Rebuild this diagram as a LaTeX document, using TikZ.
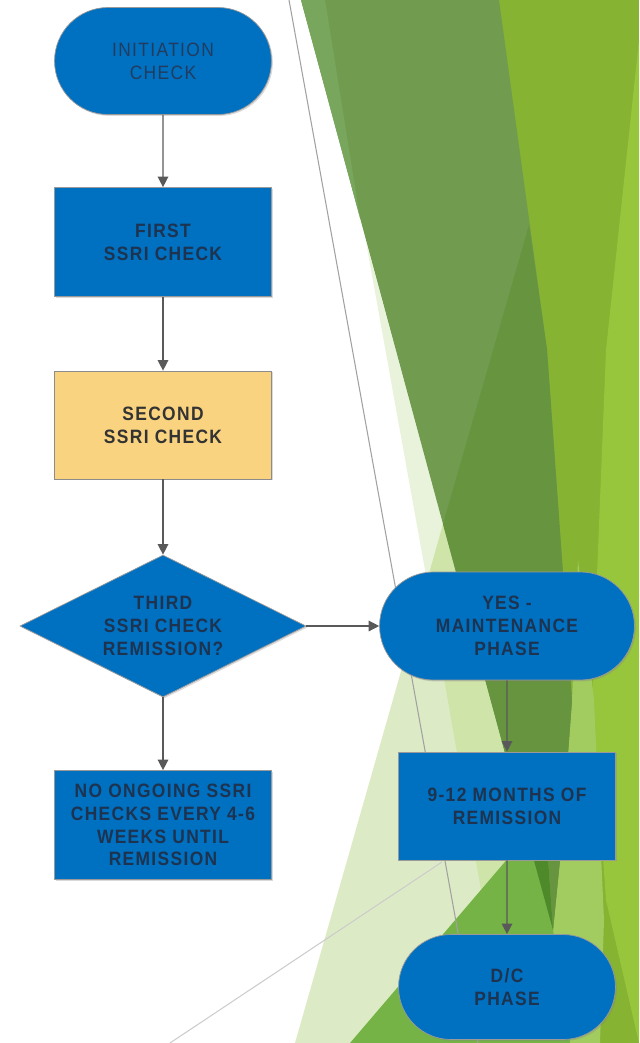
\documentclass[tikz,border=0pt]{standalone}
\usepackage{fontspec}
\setmainfont{Liberation Sans}[FakeStretch=0.9,LetterSpace=7]
\usetikzlibrary{shapes.misc,shapes.geometric,arrows.meta,shadows}
\definecolor{boxblue}{HTML}{0070C0}
\definecolor{boxtext}{HTML}{1D3350}
\definecolor{inittext}{HTML}{223C60}
\definecolor{boxsand}{HTML}{F9D37F}
\definecolor{arrowgray}{HTML}{595959}
\definecolor{lime}{HTML}{86B332}
\definecolor{limelt}{HTML}{97C63D}
\definecolor{greenlt}{HTML}{A2CB60}
\definecolor{palegreen}{HTML}{DCEBC5}
\definecolor{stripgreen}{HTML}{E9F2DA}
\definecolor{midpale}{HTML}{CFE4A9}
\definecolor{olive}{HTML}{719C4F}
\definecolor{olivelt}{HTML}{79A65D}
\definecolor{olivedk}{HTML}{66943F}
\definecolor{midgreen}{HTML}{76B347}
\definecolor{wedgegreen}{HTML}{4E8A2A}
\begin{document}
\begin{tikzpicture}[x=0.02cm,y=-0.02cm,
  blk/.style={fill=boxblue,draw=black!40,line width=0.4pt,text=boxtext,align=center,
    font=\fontsize{11}{13}\selectfont\bfseries,inner sep=2pt,minimum width=4.34cm,minimum height=2.16cm,
    drop shadow={shadow xshift=0.8pt,shadow yshift=-0.8pt,opacity=0.3}},
  term/.style={blk,shape=rounded rectangle,minimum width=4.48cm},
  proc/.style={blk,shape=rectangle},
  flow/.style={draw=arrowgray,line width=0.8pt,-{Triangle[length=6pt,width=6pt]}}]
\useasboundingbox (0,0) rectangle (639,1043);
% facets on the right
\fill[lime] (470,0) rectangle (639,1043);
\fill[limelt] (639,40) -- (606,350) -- (592,700) -- (606,900) -- (639,1043) -- cycle;
\fill[greenlt] (578,560) -- (594,700) -- (604,920) -- (600,1043) -- (570,1043) -- (553,930) -- (560,860) -- (572,700) -- cycle;
\fill[palegreen] (443,524) -- (295,1043) -- (560,1043) -- (553,930) -- cycle;
\fill[stripgreen] (366,242) -- (427,581) -- (443,524) -- cycle;
\fill[midpale] (427,581) -- (488,930) -- (553,930) -- (443,524) -- cycle;
\fill[olive] (301,0) -- (499,0) -- (547,350) -- (572,700) -- (560,860) -- (553,930) -- cycle;
\fill[olivelt] (301,0) -- (325,0) -- (360,218) -- cycle;
\fill[olivedk] (529,225) -- (547,350) -- (572,700) -- (560,860) -- (553,930) -- (443,524) -- cycle;
\fill[midgreen] (350,1043) -- (545,815) -- (553,930) -- (570,1043) -- cycle;
\fill[wedgegreen] (527,835) -- (545,815) -- (553,930) -- cycle;
\draw[black!37,line width=0.6pt] (289,0) -- (478,1043);
\draw[black!20,line width=0.6pt] (170,1043) -- (442,862);
% flow chart
\node[term,text=inittext,font=\fontsize{11}{13}\selectfont,minimum height=2.14cm](init) at (163,61){INITIATION\\CHECK};
\node[proc,minimum height=2.18cm](first) at (163,242){FIRST\\SSRI CHECK};
\node[proc,fill=boxsand,draw=black!45,text=black!80](second) at (163,425){SECOND\\SSRI CHECK};
\node[blk,shape=diamond,aspect=2,inner sep=0pt,minimum width=5.72cm,minimum height=2.84cm](third) at (163,626){THIRD\\SSRI CHECK\\REMISSION?};
\node[proc,minimum height=2.18cm](ongoing) at (163,825){NO ONGOING SSRI\\CHECKS EVERY 4-6\\WEEKS UNTIL\\REMISSION};
\node[term,minimum width=5.24cm](yes) at (507,626){YES -\\MAINTENANCE\\PHASE};
\node[proc](months) at (507,806){9-12 MONTHS OF\\REMISSION};
\node[term,minimum height=2.1cm](dc) at (507,987){D/C\\PHASE};
\draw[flow] (init) -- (first);
\draw[flow] (first) -- (second);
\draw[flow] (second) -- (third);
\draw[flow] (third) -- (ongoing);
\draw[flow] (third.east) -- (yes.west);
\draw[flow] (yes) -- (months);
\draw[flow] (months) -- (dc);
\end{tikzpicture}
\end{document}
